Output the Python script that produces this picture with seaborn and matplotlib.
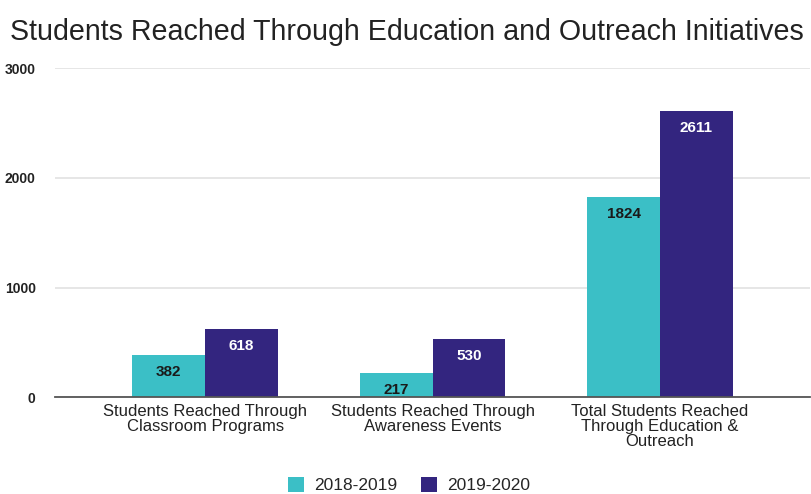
import numpy as np
import pandas as pd
import matplotlib
matplotlib.use("Agg")
from matplotlib import pyplot as plt
import seaborn as sns

categories = ["Students Reached Through\nClassroom Programs",
              "Students Reached Through\nAwareness Events",
              "Total Students Reached\nThrough Education &\nOutreach"]
years = ["2018-2019", "2019-2020"]
values_2018 = [382, 217, 1824]
values_2019 = [618, 530, 2611]
colors = ["#3bbfc6", "#33257f"]

df = pd.DataFrame({
    "category": categories * 2,
    "year": [years[0]] * 3 + [years[1]] * 3,
    "students": values_2018 + values_2019,
})

sns.set_theme(style="whitegrid")
plt.rcParams["font.family"] = ["Liberation Sans", "DejaVu Sans"]

fig = plt.figure(figsize=(8.11, 4.94), dpi=100)
ax = fig.add_axes([0.068, 0.196, 0.931, 0.666])

sns.barplot(data=df, x="category", y="students", hue="year", palette=colors,
            width=0.64, gap=0, saturation=1, linewidth=0, ax=ax, legend=True)

# labels inside the top of each bar
for container, txtcol in zip(ax.containers, ["#1a1a1a", "white"]):
    for bar in container:
        h = bar.get_height()
        ax.annotate(f"{int(h)}", (bar.get_x() + bar.get_width() / 2, h),
                    xytext=(0, -7), textcoords="offset points",
                    ha="center", va="top", fontsize=11, fontweight="bold",
                    color=txtcol)

ax.set_ylim(0, 3000)
ax.set_xlim(-0.66, 2.66)
ax.set_yticks([0, 1000, 2000, 3000])
ax.set(xlabel="", ylabel="")
ax.grid(axis="x", visible=False)
ax.grid(axis="y", color="#e2e2e2", linewidth=1.2)
ax.tick_params(axis="y", labelsize=10, pad=14, colors="#222222", length=0)
ax.tick_params(axis="x", labelsize=12, pad=5, colors="#222222", length=0)
for lbl in ax.get_yticklabels():
    lbl.set_fontweight("bold")
sns.despine(ax=ax, left=True)
ax.spines["bottom"].set_color("#555555")
ax.spines["bottom"].set_linewidth(1.3)
for lbl in ax.get_xticklabels():
    lbl.set_linespacing(1.0)

fig.text(0.012, 0.935, "Students Reached Through Education and Outreach Initiatives",
         fontsize=20.6, color="#222222", ha="left", va="center")

ax.legend(loc="lower center", bbox_to_anchor=(0.469, -0.34), ncol=2,
          frameon=False, fontsize=12.5, handlelength=0.9, handleheight=0.9,
          columnspacing=1.4, handletextpad=0.6)

fig.savefig("out.png", dpi=100)
